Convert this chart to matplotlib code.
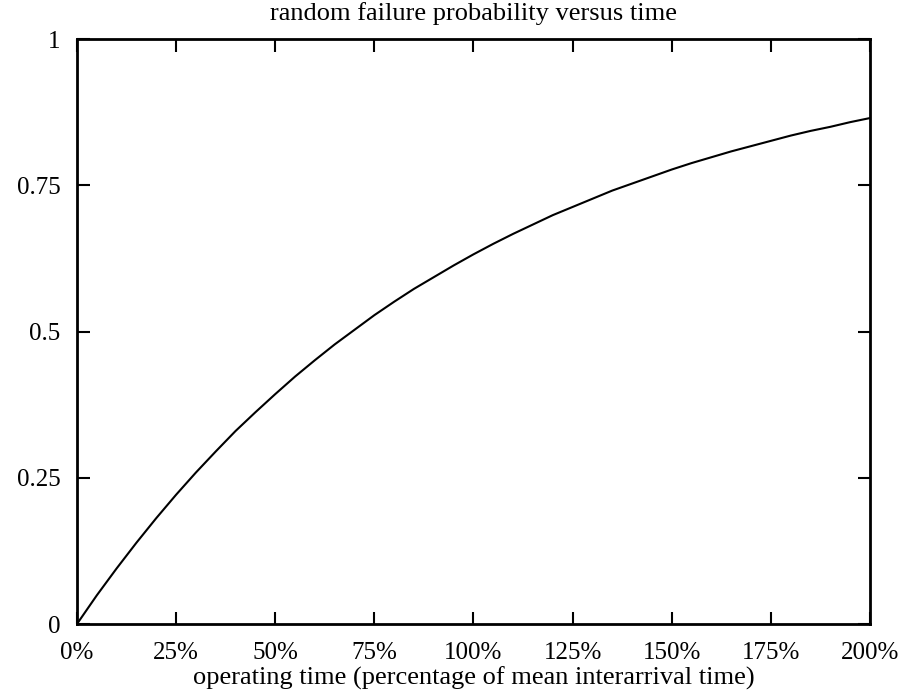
import matplotlib
matplotlib.use("Agg")
import matplotlib.pyplot as plt

# Operating time as a fraction of the mean interarrival time
time_frac = [0.00, 0.05, 0.10, 0.15, 0.20, 0.25, 0.30, 0.35, 0.40, 0.45,
             0.50, 0.55, 0.60, 0.65, 0.70, 0.75, 0.80, 0.85, 0.90, 0.95,
             1.00, 1.05, 1.10, 1.15, 1.20, 1.25, 1.30, 1.35, 1.40, 1.45,
             1.50, 1.55, 1.60, 1.65, 1.70, 1.75, 1.80, 1.85, 1.90, 1.95,
             2.00]
# Probability of a random failure within that time
fail_prob = [0.000, 0.049, 0.095, 0.139, 0.181, 0.221, 0.259, 0.295, 0.330, 0.362,
             0.393, 0.423, 0.451, 0.478, 0.503, 0.528, 0.551, 0.573, 0.593, 0.613,
             0.632, 0.650, 0.667, 0.683, 0.699, 0.713, 0.727, 0.741, 0.753, 0.765,
             0.777, 0.788, 0.798, 0.808, 0.817, 0.826, 0.835, 0.843, 0.850, 0.858,
             0.865]

x_ticks = [0.0, 0.25, 0.5, 0.75, 1.0, 1.25, 1.5, 1.75, 2.0]
x_tick_labels = ["0%", "25%", "50%", "75%", "100%", "125%", "150%", "175%", "200%"]
y_ticks = [0, 0.25, 0.5, 0.75, 1]
y_tick_labels = ["0", "0.25", "0.5", "0.75", "1"]

plt.rcParams["font.family"] = ["Liberation Serif", "DejaVu Serif"]

fig = plt.figure(figsize=(8.98, 6.98), dpi=100)
ax = fig.add_axes([0.0857, 0.106, 0.8831, 0.838])

ax.plot(time_frac, fail_prob, color="black", linewidth=1.5)

ax.set_xlim(0, 2.0)
ax.set_ylim(0, 1)
ax.set_xticks(x_ticks)
ax.set_xticklabels(x_tick_labels)
ax.set_yticks(y_ticks)
ax.set_yticklabels(y_tick_labels)

ax.tick_params(direction="in", length=9, width=1.5, labelsize=18,
               top=True, right=True, colors="black")
ax.tick_params(axis="x", pad=13)
ax.tick_params(axis="y", pad=12)

for spine in ax.spines.values():
    spine.set_linewidth(2)
    spine.set_color("black")

ax.set_title("random failure probability versus time", fontsize=19, pad=14)
ax.set_xlabel("operating time (percentage of mean interarrival time)",
              fontsize=19, labelpad=2)

fig.savefig("out.png", dpi=100, facecolor="white")
